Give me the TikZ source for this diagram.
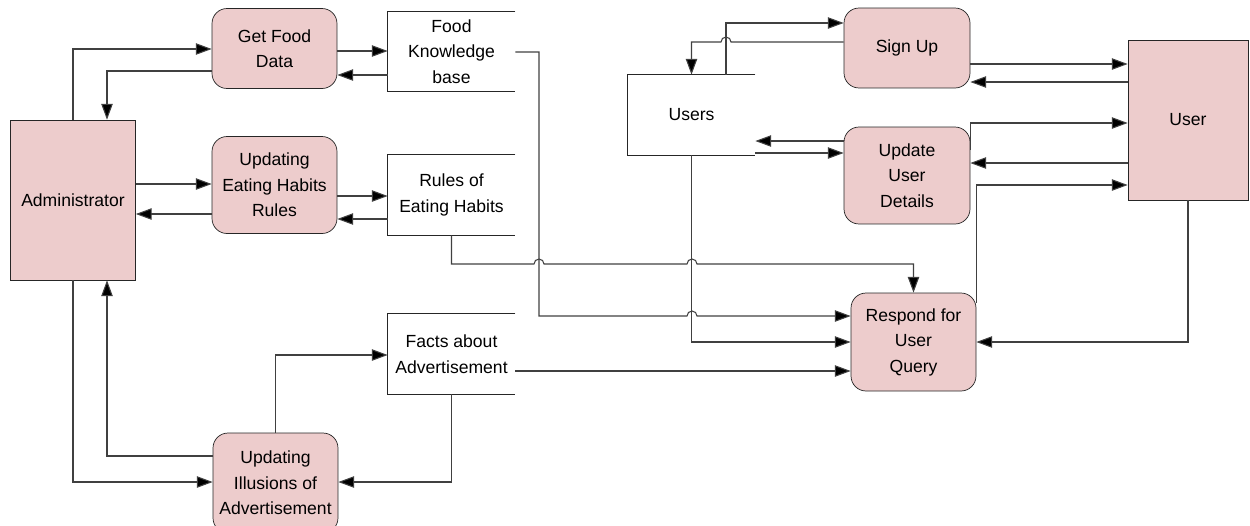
\documentclass[tikz,border=0pt]{standalone}
\usepackage{fontspec}
\setmainfont{Liberation Sans}
\usetikzlibrary{arrows.meta}
\definecolor{procpink}{RGB}{237,204,204}
\tikzset{
    proc/.style={draw=black!85, fill=procpink, rounded corners=0.3cm, minimum width=2.5cm,
        minimum height=1.6cm, align=center, inner sep=1pt, font=\fontsize{10}{14.5}\selectfont},
    ext/.style={draw=black!85, fill=procpink, minimum width=2.5cm, minimum height=3.2cm,
        align=center, inner sep=1pt, font=\fontsize{10}{14.5}\selectfont},
    store/.style={minimum width=2.54cm, minimum height=1.6cm, inner sep=0pt, align=center,
        font=\fontsize{10}{14.5}\selectfont},
    storeline/.style={draw=black!85, line width=0.6pt},
    flow/.style={draw=black!75, line width=0.6pt, -{Triangle[length=9pt,width=6.5pt,fill=black]}}
}
\begin{document}
\begin{tikzpicture}[x=0.02cm, y=-0.02cm]
    \useasboundingbox (0,0) rectangle (1250,525);

    \node[ext] (admin) at (73,200) {Administrator};
    \node[proc] (getfood) at (274.5,48.5) {Get Food\\Data};
    \node[proc, minimum height=1.94cm] (habits) at (274.5,185) {Updating\\Eating Habits\\Rules};
    \node[proc, minimum height=2cm] (illusions) at (275.5,483) {Updating\\Illusions of\\Advertisement};

    \node[store] (foodkb) at (451.5,51.5) {Food\\Knowledge\\base};
    \node[store] (rules) at (451.5,195) {Rules of\\Eating Habits};
    \node[store] (facts) at (451.5,354) {Facts about\\Advertisement};
    \node[store] (users) at (691.5,115) {Users};
    \foreach \s in {foodkb,rules,facts,users}
        \draw[storeline] (\s.north east) -- (\s.north west) -- (\s.south west) -- (\s.south east);

    \node[proc, minimum width=2.52cm] (signup) at (907,48) {Sign Up};
    \node[proc, minimum width=2.52cm, minimum height=1.94cm] (update) at (907,175.5) {Update\\User\\Details};
    \node[proc, minimum height=1.96cm] (respond) at (913.5,342) {Respond for\\User\\Query};
    \node[ext, minimum width=2.4cm] (user) at (1188,120) {User};

    % administrator side
    \draw[flow] (admin.north) |- (getfood.west |- 0,49);
    \draw[flow] (getfood.west |- 0,71) -| (admin.north -| 107,0);
    \draw[flow] (getfood.east |- 0,51) -- (foodkb.west |- 0,51);
    \draw[flow] (foodkb.west |- 0,75) -- (getfood.east |- 0,75);
    \draw[flow] (admin.east |- 0,184) -- (habits.west |- 0,184);
    \draw[flow] (habits.west |- 0,214) -- (admin.east |- 0,214);
    \draw[flow] (habits.east |- 0,196) -- (rules.west |- 0,196);
    \draw[flow] (rules.west |- 0,219) -- (habits.east |- 0,219);
    \draw[flow] (illusions.west |- 0,456) -| (admin.south -| 107,0);
    \draw[flow] (admin.south) |- (illusions.west |- 0,482);
    \draw[flow] (illusions.north) |- (facts.west |- 0,355);
    \draw[flow] (facts.south) |- (illusions.east |- 0,482);

    % into respond for user query
    \draw[flow] (rules.south) |- (534,264) arc[start angle=180, end angle=360, radius=5]
        -- (687,264) arc[start angle=180, end angle=360, radius=5] -| (respond.north);
    \draw[flow] (foodkb.east |- 0,52) -| (539,316) -- (687,316)
        arc[start angle=180, end angle=360, radius=5] -- (respond.west |- 0,316);
    \draw[flow] (users.south) |- (respond.west |- 0,342);
    \draw[flow] (facts.east |- 0,371) -- (respond.west |- 0,371);

    % user side
    \draw[flow] (users.north -| 726,0) |- (signup.west |- 0,23);
    \draw[flow] (signup.west |- 0,42) -- (731,42) arc[start angle=0, end angle=-180, radius=5]
        -| (users.north);
    \draw[flow] (signup.east |- 0,64) -- (user.west |- 0,64);
    \draw[flow] (user.west |- 0,82) -- (signup.east |- 0,82);
    \draw[flow] (update.west |- 0,141) -- (users.east |- 0,141);
    \draw[flow] (users.east |- 0,153) -- (update.west |- 0,153);
    \draw[flow] (update.east |- 0,150) |- (user.west |- 0,123);
    \draw[flow] (user.west |- 0,163) -- (update.east |- 0,163);
    \draw[flow] (respond.east |- 0,303) |- (user.west |- 0,185);
    \draw[flow] (user.south) |- (respond.east |- 0,342);
\end{tikzpicture}
\end{document}
